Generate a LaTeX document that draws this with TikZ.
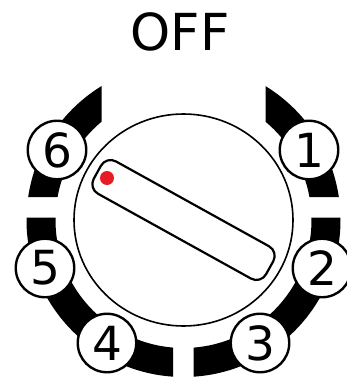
\documentclass[tikz,border=0pt]{standalone}
\usepackage{fontspec}
\setmainfont{DejaVu Sans}
\definecolor{dotred}{RGB}{232,28,36}
\begin{document}
\begin{tikzpicture}[x=1pt,y=-1pt,
  num/.style={circle, draw, fill=white, line width=2.4pt, minimum size=58.5pt, inner sep=0pt,
    font=\fontsize{47}{47}\selectfont},
  band/.style={fill=black, even odd rule},
  knobline/.style={draw=black, fill=white, line width=1.6pt},
  slotbox/.style={draw, line width=2.2pt, rounded corners=11pt, minimum width=197pt,
    minimum height=37pt, inner sep=0pt, rotate=-29},
]
\useasboundingbox (0,0) rectangle (347,378);
\coordinate (c) at (183.5,220);
% black ring segments
\begin{scope}
  \clip (0,0) rectangle (101.5,197) (265.5,0) rectangle (347,197)
        (0,217.5) rectangle (173,378) (193.5,217.5) rectangle (347,378);
  \path[band] (c) circle[radius=157pt] (c) circle[radius=128pt];
\end{scope}
% knob
\path[knobline] (c) ellipse[x radius=109.5pt, y radius=106pt];
\node (slot) [slotbox] at (c) {};
\coordinate (dotc) at (107,178);
\fill[dotred] (dotc) circle[radius=7pt];
% positions
\node (n1) [num] at (309,150) {1};
\node (n2) [num] at (322,268) {2};
\node (n3) [num] at (260,343) {3};
\node (n4) [num] at (107,343) {4};
\node (n5) [num] at (45,268) {5};
\node (n6) [num] at (57,150) {6};
\node (off) at (180,31.5) {\fontsize{51}{51}\selectfont OFF};
\end{tikzpicture}
\end{document}
